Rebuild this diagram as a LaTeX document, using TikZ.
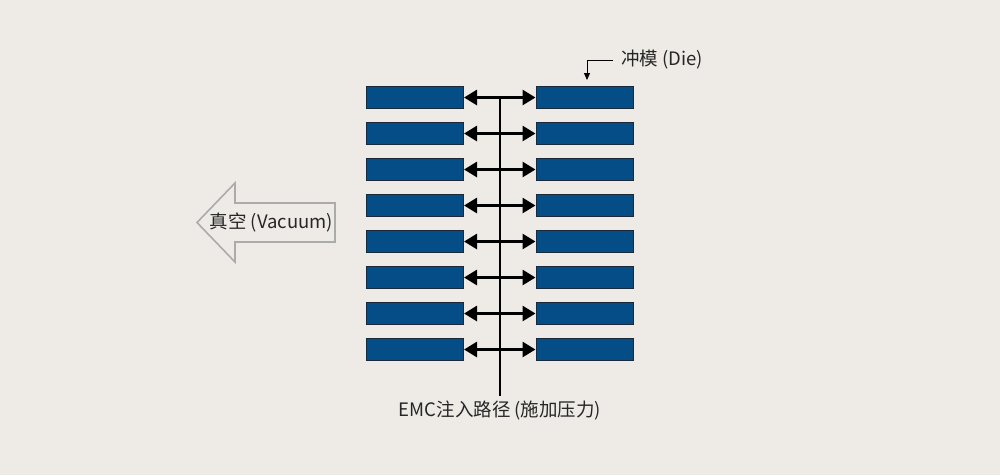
\documentclass[tikz,border=0pt]{standalone}
\usepackage{fontspec}
\setmainfont{Noto Sans CJK SC}
\usetikzlibrary{arrows.meta}
\definecolor{bg}{HTML}{EEEBE7}
\definecolor{dieblue}{HTML}{054D87}
\definecolor{dieedge}{HTML}{1A2A3A}
\definecolor{vacgray}{HTML}{ABABAB}
\begin{document}
\begin{tikzpicture}[x=1pt,y=-1pt,
  diebox/.style={draw=dieedge,line width=1pt,fill=dieblue,minimum width=97pt,minimum height=22pt,inner sep=0pt},
  lbl/.style={font=\fontsize{18.5}{21}\selectfont,text=black!85,inner sep=0pt},
  press/.style={line width=2.8pt,{Triangle[length=13pt,width=15pt]}-{Triangle[length=13pt,width=15pt]},shorten <=0.5pt,shorten >=0.5pt}
]
\fill[bg] (0,0) rectangle (1000,475);
\useasboundingbox (0,0) rectangle (1000,475);
% vertical injection path
\coordinate (top) at (500,96);
\coordinate (bot) at (500,396);
\draw[line width=2.8pt] (top) -- (bot);
\foreach \i in {0,...,7}{
  \pgfmathsetmacro{\yy}{97.5+36*\i}
  \node[diebox] (L\i) at (414.5,\yy) {};
  \node[diebox] (R\i) at (585,\yy) {};
  \draw[press] (L\i.east) -- (R\i.west);
}
% Die label
\node[lbl,anchor=west] (die) at (621,60) {冲模 (Die)};
\coordinate (dk) at (587,60);
\draw[line width=1pt,-{Triangle[length=7pt,width=6pt]}] (die.west) ++(-8,0) -- (dk) -- ([yshift=6pt]R0.north west -| dk);
% Vacuum arrow
\draw[vacgray,line width=1.6pt,line join=miter] (335,203) -- (235,203) -- (235,183) -- (197,222.5) -- (235,262) -- (235,242) -- (335,242) -- cycle;
\node[lbl] (vac) at (271.5,222) {真空 (Vacuum)};
% bottom label
\node[lbl] (emc) at (500,410) {EMC注入路径 (施加压力)};
\end{tikzpicture}
\end{document}
